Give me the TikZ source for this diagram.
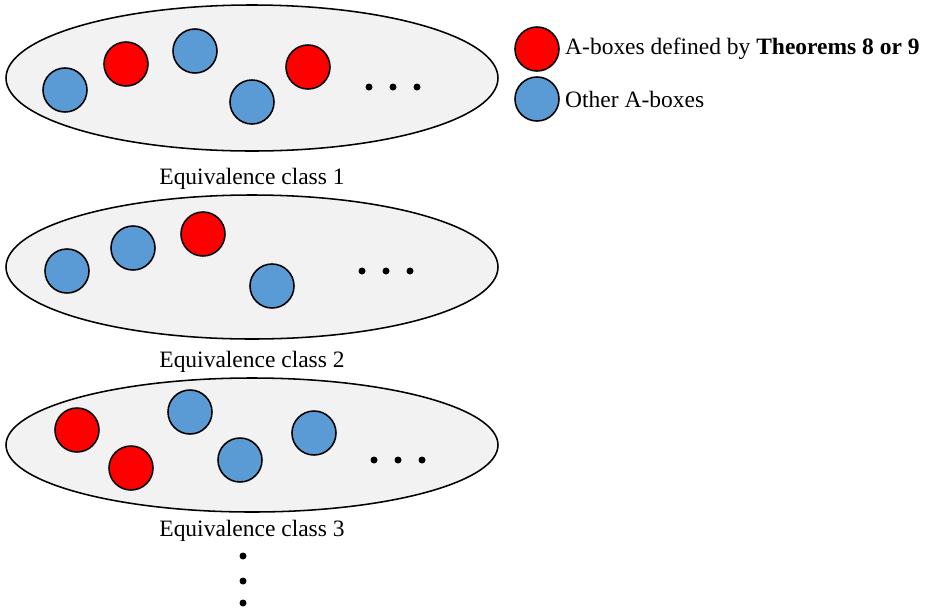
\documentclass[tikz,border=0pt]{standalone}
\usepackage{fontspec}
\setmainfont{Liberation Serif}
\usetikzlibrary{positioning}
\definecolor{abred}{HTML}{FF0000}
\definecolor{abblue}{HTML}{5B9BD5}
\definecolor{classgray}{HTML}{F2F2F2}
\tikzset{
  abox/.style={circle,draw=black,line width=1.1pt,minimum size=1.1cm,inner sep=0pt},
  redbox/.style={abox,fill=abred},
  bluebox/.style={abox,fill=abblue},
  classlabel/.style={anchor=base}
}

\begin{document}
\begin{tikzpicture}[x=0.025cm,y=-0.025cm,line width=1.1pt,font=\fontsize{16.7}{20}\selectfont]
\def\cx{252}
\def\dotrad{3.5}
\useasboundingbox (0,0) rectangle (934,607);
\foreach \cy/\ry in {78/73,267/72,445/67} {
  \draw[fill=classgray] (\cx,\cy) ellipse (246 and \ry);
}
\foreach \n/\s/\x/\y in {a1/bluebox/65/90, a2/redbox/126/64, a3/bluebox/195/51, a4/bluebox/252/102, a5/redbox/308/67,
                         b1/bluebox/67/271, b2/bluebox/133/248, b3/redbox/203/234, b4/bluebox/272/286,
                         c1/redbox/77/430, c2/redbox/131/468, c3/bluebox/190/412, c4/bluebox/240/460, c5/bluebox/314/433} {
  \node[\s] (\n) at (\x,\y) {};
}
\foreach \x/\y in {369/87, 393/87, 417/87, 362/271, 386/271, 410/271, 374/460, 398/460, 422/460, 243/556, 243/581, 243/603} {
  \fill (\x,\y) circle (\dotrad);
}
\node[classlabel] (class1) at (\cx,184) {Equivalence class 1};
\node[classlabel] (class2) at (\cx,367) {Equivalence class 2};
\node[classlabel] (class3) at (\cx,536) {Equivalence class 3};
\node[redbox] (keyred) at (537,49) {};
\node[bluebox] (keyblue) at (537,99) {};
\node[right=0pt of keyred] (keyredtext) {A-boxes defined by \textbf{Theorems 8 or 9}};
\node[right=0pt of keyblue] (keybluetext) {Other A-boxes};
\end{tikzpicture}
\end{document}
